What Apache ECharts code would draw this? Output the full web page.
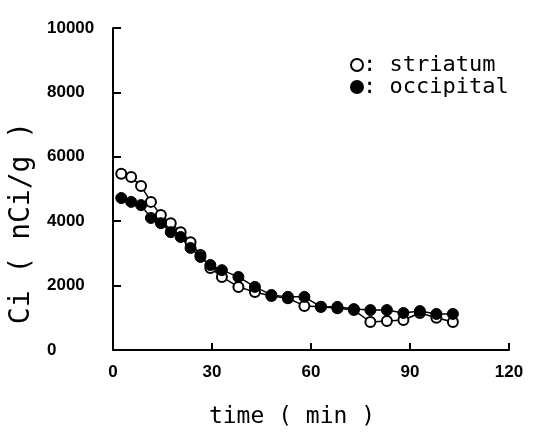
<!DOCTYPE html>
<html>
<head>
<meta charset="utf-8">
<script src="https://cdn.jsdelivr.net/npm/echarts@6/dist/echarts.min.js"></script>
<style>
  html, body { margin: 0; padding: 0; background: #fff; }
  #chart { width: 533px; height: 435px; }
</style>
</head>
<body>
<div id="chart"></div>
<script>
// sampling times (min): 3-min frames then 5-min frames
var times = [2.5, 5.5, 8.5, 11.5, 14.5, 17.5, 20.5, 23.5, 26.5, 29.5,
  33, 38, 43, 48, 53, 58, 63, 68, 73, 78, 83, 88, 93, 98, 103];
var striatum = [5470, 5370, 5090, 4600, 4190, 3940, 3660, 3350, 2950, 2550,
  2270, 1960, 1800, 1680, 1610, 1370, 1340, 1300, 1240, 870, 900, 930, 1150, 1000, 870];
var occipital = [4720, 4600, 4500, 4100, 3940, 3660, 3510, 3170, 2890, 2640,
  2480, 2270, 1960, 1710, 1650, 1650, 1340, 1340, 1270, 1240, 1240, 1150, 1210, 1120, 1120];
var xTicks = [0, 30, 60, 90, 120];
var yTicks = [0, 2000, 4000, 6000, 8000, 10000];

function pairs(vals) {
  return times.map(function (t, i) { return [t, vals[i]]; });
}

var mono = "'DejaVu Sans Mono', monospace";
var numFont = "'Liberation Sans', Arial, sans-serif";

var chart = echarts.init(document.getElementById("chart"));
var option = {
  animation: false,
  backgroundColor: "#fff",
  grid: { left: 113, right: 24, top: 28, bottom: 85 },
  legend: {
    orient: "vertical",
    left: 345,
    top: 49,
    itemGap: 0,
    itemWidth: 12,
    itemHeight: 12,
    icon: "circle",
    formatter: function (name) { return ": " + name; },
    textStyle: { fontFamily: mono, fontSize: 22, lineHeight: 20, color: "#000", padding: [0, 0, 0, -5] },
    data: ["striatum", "occipital"]
  },
  xAxis: {
    type: "value",
    min: xTicks[0],
    max: xTicks[xTicks.length - 1],
    interval: 30,
    name: "time ( min )",
    nameLocation: "middle",
    nameGap: 56,
    nameTextStyle: { fontFamily: mono, fontSize: 23, color: "#000", padding: [0, 38, 0, 0] },
    axisLine: { lineStyle: { color: "#000", width: 2 } },
    axisTick: { inside: true, length: 7, lineStyle: { color: "#000", width: 2 } },
    axisLabel: {
      color: "#000", fontFamily: numFont, fontWeight: "bold", fontSize: 17, margin: 14,
      formatter: function (v) { return String(v); }
    },
    splitLine: { show: false }
  },
  yAxis: {
    type: "value",
    min: yTicks[0],
    max: yTicks[yTicks.length - 1],
    interval: 2000,
    name: "Ci ( nCi/g )",
    nameLocation: "middle",
    nameGap: 72,
    nameTextStyle: { fontFamily: mono, fontSize: 28, color: "#000", padding: [0, 68, 0, 0] },
    axisLine: { lineStyle: { color: "#000", width: 2 } },
    axisTick: { inside: true, length: 8, lineStyle: { color: "#000", width: 2 } },
    axisLabel: {
      color: "#000", fontFamily: numFont, fontWeight: "bold", fontSize: 17, margin: 66, align: "left",
      padding: [0, 0, 6, 0],
      formatter: function (v) { return String(v); }
    },
    splitLine: { show: false }
  },
  series: [
    {
      name: "striatum",
      type: "line",
      data: pairs(striatum),
      symbol: "circle",
      symbolSize: 10,
      showAllSymbol: true,
      lineStyle: { color: "#000", width: 1.5 },
      itemStyle: { color: "#fff", borderColor: "#000", borderWidth: 2 }
    },
    {
      name: "occipital",
      type: "line",
      data: pairs(occipital),
      symbol: "circle",
      symbolSize: 11,
      showAllSymbol: true,
      lineStyle: { color: "#000", width: 1.5 },
      itemStyle: { color: "#000", borderColor: "#000", borderWidth: 1 }
    }
  ]
};
chart.setOption(option);
</script>
</body>
</html>
